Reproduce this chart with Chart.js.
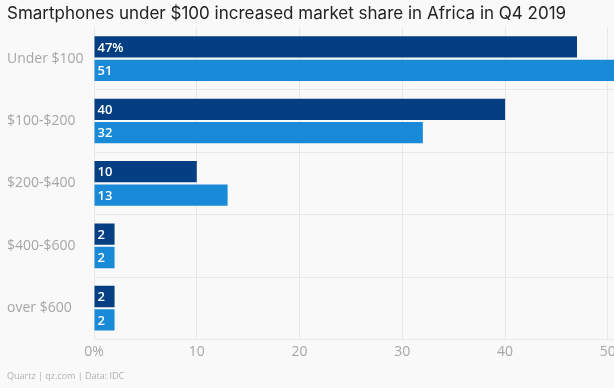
<!DOCTYPE html>
<html><head><meta charset="utf-8">
<script src="https://cdn.jsdelivr.net/npm/chart.js@4"></script>
<style>html,body{margin:0;padding:0;background:#f9f9f9;}#wrap{width:614px;height:388px;}</style>
</head><body><div id="wrap"><canvas id="c" width="614" height="388"></canvas></div>
<script>
const categories = ["Under $100", "$100-$200", "$200-$400", "$400-$600", "over $600"];
const seriesQ4_2018 = [47, 40, 10, 2, 2];
const seriesQ4_2019 = [51, 32, 13, 2, 2];
const xTicks = [0, 10, 20, 30, 40, 50];
const titleText = "Smartphones under $100 increased market share in Africa in Q4 2019";
const footerText = "Quartz | qz.com | Data: IDC";

const labelPlugin = {
  id: 'barLabels',
  afterDatasetsDraw(chart) {
    const ctx = chart.ctx;
    ctx.save();
    ctx.fillStyle = '#ffffff';
    ctx.font = '600 13px "Open Sans", sans-serif';
    ctx.textBaseline = 'middle';
    chart.data.datasets.forEach((ds, di) => {
      const meta = chart.getDatasetMeta(di);
      meta.data.forEach((bar, i) => {
        let t = String(ds.data[i]);
        if (di === 0 && i === 0) t += '%';
        ctx.fillText(t, bar.base + 3, bar.y + 1);
      });
    });
    ctx.restore();
  }
};

new Chart(document.getElementById('c'), {
  type: 'bar',
  data: {
    labels: categories,
    datasets: [
      { label: 'Q4 2018', data: seriesQ4_2018, backgroundColor: '#033f82', categoryPercentage: 0.75, barPercentage: 0.91 },
      { label: 'Q4 2019', data: seriesQ4_2019, backgroundColor: '#198ad7', categoryPercentage: 0.75, barPercentage: 0.91 }
    ]
  },
  options: {
    indexAxis: 'y',
    responsive: false,
    animation: false,
    layout: { padding: { left: 7, right: 0, top: 0, bottom: 0 } },
    plugins: {
      legend: { display: false },
      tooltip: { enabled: false },
      title: {
        display: true, text: titleText, align: 'start', color: '#222',
        font: { family: 'Inter, sans-serif', size: 17, weight: '400' },
        padding: { top: 4, bottom: 3 }
      },
      subtitle: {
        display: true, text: footerText, align: 'start', position: 'bottom', color: '#b0b0b0',
        font: { family: '"Open Sans", sans-serif', size: 9 },
        padding: { top: 7, bottom: 6 }
      }
    },
    scales: {
      x: {
        min: 0, max: 50.6,
        afterBuildTicks(axis) { axis.ticks = xTicks.map(v => ({ value: v })); },
        afterFit(axis) { axis.paddingRight = 0; },
        ticks: {
          color: '#a6a6a6', font: { family: '"Open Sans", sans-serif', size: 14 },
          padding: 4,
          callback: (v) => v === 0 ? '0%' : String(v)
        },
        grid: { color: '#e8e8e8', drawTicks: false },
        border: { display: false }
      },
      y: {
        afterFit(axis) { axis.width = 87; },
        ticks: {
          color: '#a6a6a6', font: { family: '"Open Sans", sans-serif', size: 14 },
          crossAlign: 'far', padding: 0
        },
        grid: {
          offset: true, drawTicks: false,
          color: (c) => (c.index === 0 || c.index === categories.length) ? 'rgba(0,0,0,0)' : '#e8e8e8'
        },
        border: { display: false }
      }
    }
  },
  plugins: [labelPlugin]
});
</script></body></html>
